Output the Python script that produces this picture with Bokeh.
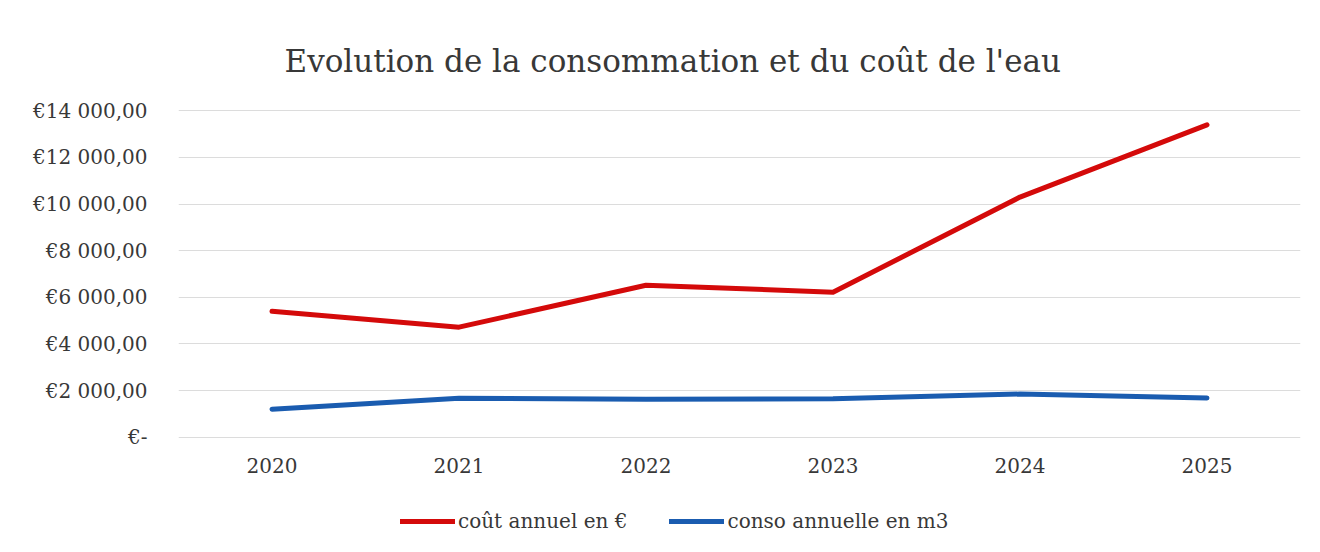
from bokeh.plotting import figure
from bokeh.layouts import column
from bokeh.models import Legend, LegendItem, CustomJSTickFormatter, FixedTicker, Range1d
from bokeh.embed import file_html
from bokeh.resources import INLINE

years = ["2020", "2021", "2022", "2023", "2024", "2025"]
cout_annuel = [5400, 4720, 6520, 6220, 10300, 13400]
conso_annuelle = [1200, 1670, 1630, 1650, 1850, 1680]
y_ticks = [0, 2000, 4000, 6000, 8000, 10000, 12000, 14000]
series_labels = ["coût annuel en €", "conso annuelle en m3"]

SERIF = "DejaVu Serif"
RED = "#d40a0a"
BLUE = "#1a5cb0"
TXT = "#383838"

p = figure(x_range=years, y_range=Range1d(-100, 14100), frame_width=1122, frame_height=331,
           output_backend="svg", toolbar_location=None,
           title="Evolution de la consommation et du coût de l'eau",
           min_border_left=178, min_border_right=12, min_border_top=108, min_border_bottom=45)
p.outline_line_color = None
p.background_fill_color = "white"
p.border_fill_color = "white"

p.title.text_font = SERIF
p.title.text_font_size = "31px"
p.title.text_font_style = "normal"
p.title.text_color = TXT
p.title.align = "left"
p.title.offset = 106
p.title.standoff = 59

p.line(years, cout_annuel, line_color=RED, line_width=5, line_cap="round", line_join="round")
p.line(years, conso_annuelle, line_color=BLUE, line_width=5, line_cap="round", line_join="round")

p.yaxis.ticker = FixedTicker(ticks=y_ticks)
p.yaxis.formatter = CustomJSTickFormatter(code="""
if (tick == 0) { return "€-"; }
var s = Math.round(tick).toString().replace(/\\B(?=(\\d{3})+(?!\\d))/g, " ");
return "€" + s + ",00";
""")
for ax in (p.xaxis, p.yaxis):
    ax.axis_line_color = None
    ax.major_tick_line_color = None
    ax.minor_tick_line_color = None
    ax.major_label_text_font = SERIF
    ax.major_label_text_font_size = "20px"
    ax.major_label_text_color = TXT
p.yaxis.major_label_standoff = 25
p.xaxis.major_label_standoff = 12

p.xgrid.grid_line_color = None
p.ygrid.grid_line_color = "#dcdcdc"
p.ygrid.grid_line_width = 1

# legend strip below the chart (same series, drawn out of view so only the legend shows)
q = figure(x_range=years, y_range=Range1d(1e6, 1e6 + 1), frame_width=1122, frame_height=60,
           output_backend="svg", toolbar_location=None,
           min_border_left=178, min_border_right=12, min_border_top=0, min_border_bottom=0)
q.axis.visible = False
q.grid.visible = False
q.outline_line_color = None
q.border_fill_color = "white"
q1 = q.line(years, cout_annuel, line_color=RED, line_width=5, line_cap="round")
q2 = q.line(years, conso_annuelle, line_color=BLUE, line_width=5, line_cap="round")

legend = Legend(items=[LegendItem(label=series_labels[0], renderers=[q1]),
                       LegendItem(label=series_labels[1], renderers=[q2])],
                orientation="horizontal", location=(222, 11),
                label_text_font=SERIF, label_text_font_size="20px", label_text_color=TXT,
                glyph_width=55, spacing=42, label_standoff=3, border_line_color=None,
                background_fill_alpha=0, margin=0, padding=0)
q.add_layout(legend, "center")

open("out.html", "w").write(file_html(column(p, q, spacing=0), INLINE))
